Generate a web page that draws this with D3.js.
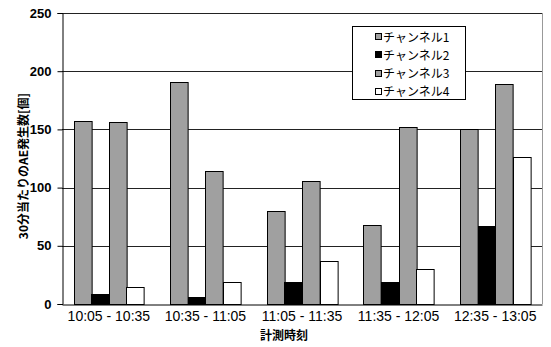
<!DOCTYPE html>
<html><head><meta charset="utf-8">
<script src="https://cdn.jsdelivr.net/npm/d3@7"></script>
<style>body{margin:0;background:#fff}svg{display:block}</style>
</head><body>
<script>
const categories = ["10:05 - 10:35","10:35 - 11:05","11:05 - 11:35","11:35 - 12:05","12:35 - 13:05"];
const seriesNames = ["チャンネル1","チャンネル2","チャンネル3","チャンネル4"];
const ch1 = [157,191,80,68,150];
const ch2 = [9,6,19,19,67];
const ch3 = [156,114,106,152,189];
const ch4 = [15,19,37,30,126];
const yTicks = [0,50,100,150,200,250];
const colors = ["#a0a0a0","#000000","#a0a0a0","#ffffff"];
const seriesValues = [ch1,ch2,ch3,ch4];

const W=551,H=347;
const m={l:62,t:13,r:542,b:304};
const svg=d3.select("body").append("svg").attr("width",W).attr("height",H);
const x=d3.scaleBand().domain(categories).range([m.l,m.r]).paddingInner(0.27).paddingOuter(0.12);
const xs=d3.scaleBand().domain(seriesNames).range([0,x.bandwidth()]);
const y=d3.scaleLinear().domain([0,250]).range([m.b,m.t]);

// gridlines
svg.append("g").selectAll("line").data(yTicks.filter(d=>d>0)).join("line")
  .attr("x1",m.l).attr("x2",m.r).attr("y1",d=>Math.round(y(d))+0.5).attr("y2",d=>Math.round(y(d))+0.5)
  .attr("stroke","#222").attr("stroke-width",1);
// right border
svg.append("line").attr("x1",m.r+0.5).attr("x2",m.r+0.5).attr("y1",m.t).attr("y2",m.b).attr("stroke","#999");

// bars
const data=[];
categories.forEach((c,i)=>seriesNames.forEach((s,j)=>data.push({c,s,v:seriesValues[j][i],j})));
svg.append("g").selectAll("rect").data(data).join("rect")
  .attr("x",d=>Math.round(x(d.c)+xs(d.s))+0.5)
  .attr("y",d=>Math.round(y(d.v))+0.5)
  .attr("width",xs.bandwidth())
  .attr("height",d=>Math.round(y(0))-Math.round(y(d.v)))
  .attr("fill",d=>colors[d.j]).attr("stroke","#000").attr("stroke-width",1);

// axes
const yAxis=svg.append("g").attr("transform",`translate(${m.l+0.5},0)`)
  .call(d3.axisLeft(y).tickValues(yTicks).tickSize(5).tickPadding(6).tickFormat(d3.format("d")));
yAxis.select(".domain").attr("stroke","#000");
yAxis.selectAll("text").attr("font-family","'Liberation Sans', Arial, sans-serif").attr("font-size",13).attr("font-weight","bold").attr("fill","#000");
const xAxis=svg.append("g").attr("transform",`translate(0,${m.b+0.5})`)
  .call(d3.axisBottom(x).tickSize(0).tickPadding(7));
xAxis.select(".domain").attr("stroke","#000");
xAxis.selectAll("text").attr("font-family","'Liberation Sans', Arial, sans-serif").attr("font-size",14).attr("fill","#000");

// titles
svg.append("text").attr("transform","translate(22,166) rotate(-90)").attr("text-anchor","middle")
  .attr("dominant-baseline","central")
  .attr("font-family","'Noto Sans CJK JP', sans-serif").attr("font-size",12).attr("font-weight","bold")
  .text("30分当たりのAE発生数[個]");
svg.append("text").attr("x",284).attr("y",334).attr("text-anchor","middle").attr("dominant-baseline","central")
  .attr("font-family","'Noto Sans CJK JP', sans-serif").attr("font-size",12).attr("font-weight","bold")
  .text("計測時刻");

// legend
const lg=svg.append("g");
lg.append("rect").attr("x",352.5).attr("y",26.5).attr("width",113).attr("height",73).attr("fill","#fff").attr("stroke","#000");
seriesNames.forEach((s,j)=>{
  const cy=36+j*18.3;
  lg.append("rect").attr("x",375.5).attr("y",Math.round(cy-3)+0.5).attr("width",6).attr("height",6)
    .attr("fill",colors[j]).attr("stroke","#000");
  lg.append("text").attr("x",383).attr("y",cy).attr("dominant-baseline","central")
    .attr("font-family","'Noto Sans CJK JP', sans-serif").attr("font-size",12).text(s);
});
</script>
</body></html>
